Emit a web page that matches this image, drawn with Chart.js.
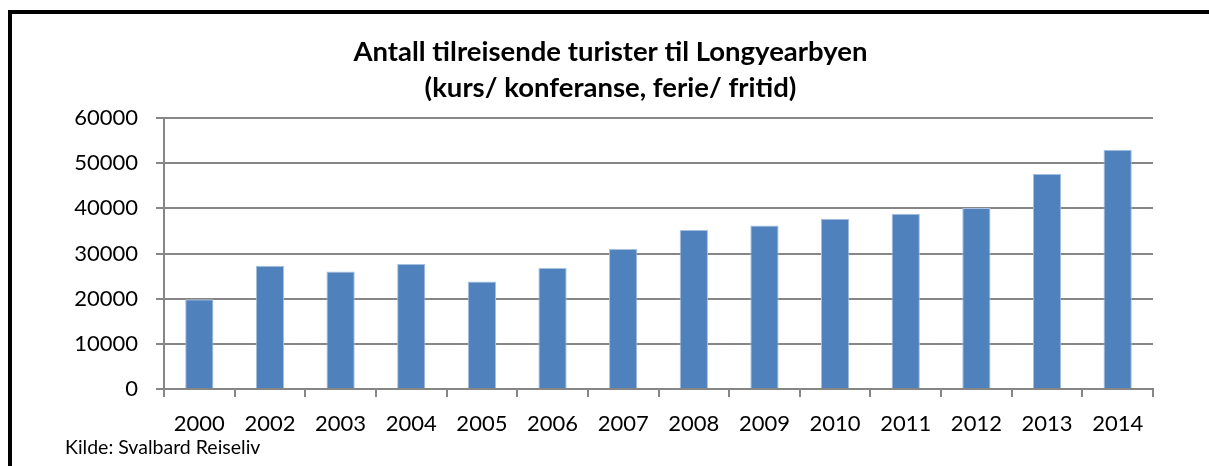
<!DOCTYPE html>
<html>
<head>
<meta charset="utf-8">
<script src="https://cdn.jsdelivr.net/npm/chart.js@4"></script>
<style>
body { margin: 0; background: #fff; }
#wrap { position: relative; width: 1209px; height: 466px; overflow: hidden; }
#frame { position: absolute; left: 8px; top: 10px; width: 1300px; height: 600px; border-left: 4px solid #000; border-top: 4px solid #000; }
#chart { position: absolute; left: 0; top: 0; }
#source { position: absolute; left: 65px; top: 435px; font-family: Lato, sans-serif; font-size: 19.5px; color: #000; }
</style>
</head>
<body>
<div id="wrap">
    <div id="frame"></div>
    <canvas id="chart" width="1209" height="466"></canvas>
    <div id="source">Kilde: Svalbard Reiseliv</div>
</div>
<script>
var years = ['2000', '2002', '2003', '2004', '2005', '2006', '2007', '2008', '2009', '2010', '2011', '2012', '2013', '2014'];
var tourists = [19900, 27300, 26000, 27700, 23800, 26800, 31000, 35200, 36200, 37700, 38800, 40100, 47600, 53000];
var titleLines = ['Antall tilreisende turister til Longyearbyen', '(kurs/ konferanse, ferie/ fritid)'];

var gridColor = '#868686';

var ctx = document.getElementById('chart').getContext('2d');
var chart = new Chart(ctx, {
    type: 'bar',
    data: {
        labels: years,
        datasets: [{
            data: tourists,
            backgroundColor: '#4F81BD',
            borderColor: '#A7C0DE',
            borderWidth: 1,
            categoryPercentage: 1,
            barPercentage: 0.4
        }]
    },
    options: {
        responsive: false,
        animation: false,
        layout: { padding: { left: 12, right: 0, top: 0, bottom: 0 } },
        plugins: {
            legend: { display: false },
            tooltip: { enabled: false },
            title: {
                display: true,
                text: titleLines,
                color: '#000',
                font: { family: 'Lato', size: 27.5, weight: 'bold', lineHeight: 1.31 },
                padding: { top: 34, bottom: 12 }
            }
        },
        scales: {
            x: {
                afterFit: function(scale) { scale.height = 77; },
                grid: {
                    offset: true,
                    drawOnChartArea: false,
                    drawTicks: true,
                    tickLength: 8,
                    color: gridColor,
                    lineWidth: 2
                },
                border: { color: gridColor, width: 2 },
                ticks: {
                    color: '#000',
                    font: { family: 'Lato', size: 22 },
                    padding: 14,
                    maxRotation: 0,
                    autoSkip: false
                }
            },
            y: {
                min: 0,
                max: 60000,
                afterFit: function(scale) { scale.width = 152; },
                grid: {
                    color: gridColor,
                    lineWidth: 2,
                    drawTicks: true,
                    tickLength: 8
                },
                border: { color: gridColor, width: 2 },
                ticks: {
                    stepSize: 10000,
                    color: '#000',
                    font: { family: 'Lato', size: 22 },
                    padding: 18,
                    callback: function(value) {
                        return String(value);
                    }
                }
            },
            // empty right-hand axis that only reserves the space right of the plot
            spacer: {
                position: 'right',
                afterFit: function(scale) { scale.width = 56; },
                grid: { display: false },
                border: { display: false },
                ticks: { display: false }
            }
        }
    }
});
</script>
</body>
</html>
